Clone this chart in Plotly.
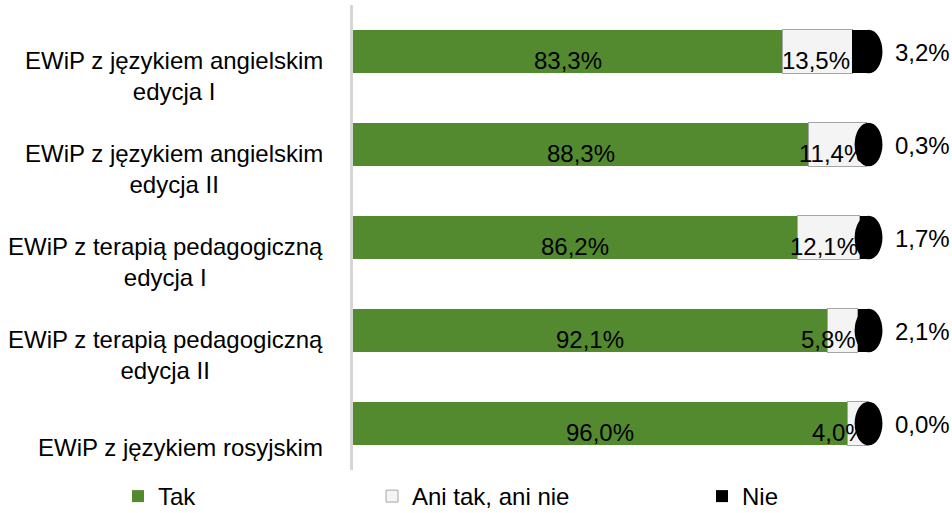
import plotly.graph_objects as go

categories = [
    "EWiP z językiem angielskim<br>edycja I",
    "EWiP z językiem angielskim<br>edycja II",
    "EWiP z terapią pedagogiczną<br>edycja I",
    "EWiP z terapią pedagogiczną<br>edycja II",
    "EWiP z językiem rosyjskim",
]
series_names = ["Tak", "Ani tak, ani nie", "Nie"]
tak = [83.3, 88.3, 86.2, 92.1, 96.0]
ani = [13.5, 11.4, 12.1, 5.8, 4.0]
nie = [3.2, 0.3, 1.7, 2.1, 0.0]

def fmt(v):
    return f"{v:.1f}".replace(".", ",") + "%"

FONT = "Liberation Sans, Arial, sans-serif"
FS = 24
ids = list(range(len(categories)))

fig = go.Figure()
fig.add_trace(go.Bar(y=ids, x=tak, orientation="h", name=series_names[0],
                     marker=dict(color="#538A2F", line=dict(width=0)),
                     legend="legend"))
fig.add_trace(go.Bar(y=ids, x=ani, orientation="h", name=series_names[1],
                     marker=dict(color="#F4F4F4", line=dict(color="#A6A6A6", width=1)),
                     legend="legend2"))
fig.add_trace(go.Bar(y=ids, x=nie, orientation="h", name=series_names[2],
                     marker=dict(color="#000000", line=dict(width=0)),
                     legend="legend3"))

ann = []
shapes = []
for i, c in enumerate(categories):
    ann.append(dict(x=0, xref="paper", y=i, yref="y", text=c, xanchor="right",
                    align="center", xshift=-28, yshift=-24, showarrow=False,
                    font=dict(size=FS, color="#000")))
    ann.append(dict(x=tak[i] / 2, y=i, text=fmt(tak[i]), showarrow=False,
                    yshift=-9, font=dict(size=FS, color="#000")))
    ann.append(dict(x=tak[i] + ani[i], y=i, text=fmt(ani[i]), showarrow=False,
                    xanchor="right", xshift=0, yshift=-9, font=dict(size=FS, color="#000")))
    total = tak[i] + ani[i] + nie[i]
    ann.append(dict(x=total, y=i, text=fmt(nie[i]), showarrow=False,
                    xanchor="left", xshift=24, yshift=-1, font=dict(size=FS, color="#000")))
    # cylinder end cap
    shapes.append(dict(type="circle", xref="x", yref="y",
                       x0=total - 2.7, x1=total + 2.7, y0=i - 0.235, y1=i + 0.235,
                       fillcolor="#000000", line=dict(width=0), layer="above"))

leg_common = dict(orientation="h", yanchor="middle", y=-0.057, xanchor="left",
                  font=dict(size=FS, color="#000"), bgcolor="rgba(0,0,0,0)")

fig.update_layout(
    width=952, height=513,
    margin=dict(l=353, r=68, t=5, b=43, autoexpand=False),
    paper_bgcolor="white", plot_bgcolor="white",
    barmode="stack", bargap=0.53,
    font=dict(family=FONT, size=FS, color="#000"),
    showlegend=True,
    legend=dict(x=(118 - 353) / 531, **leg_common),
    legend2=dict(x=(372 - 353) / 531, **leg_common),
    legend3=dict(x=(702 - 353) / 531, **leg_common),
    xaxis=dict(range=[0, 103], showgrid=False, showticklabels=False, zeroline=False,
               showline=False, fixedrange=True),
    yaxis=dict(range=[len(categories) - 0.5, -0.5], showgrid=False, showticklabels=False,
               zeroline=False, showline=True, linecolor="#D6D6D6", linewidth=3,
               tickmode="array", tickvals=ids, fixedrange=True),
    annotations=ann,
    shapes=shapes,
)

fig.write_html("out.html", config={"displayModeBar": False},
               post_script="document.body.style.margin='0';document.body.style.overflow='hidden';")
